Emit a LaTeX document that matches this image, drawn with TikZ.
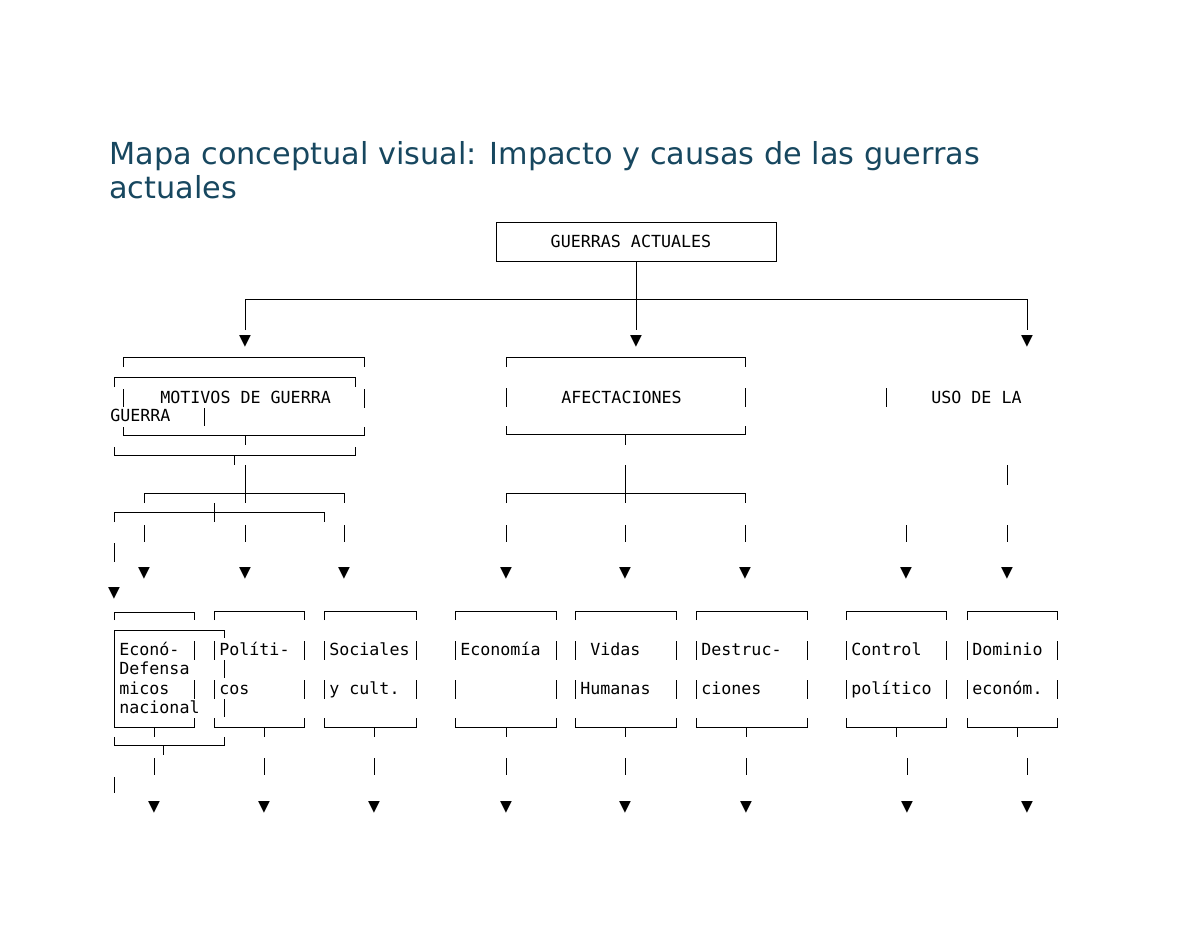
\documentclass[tikz,border=0pt]{standalone}
\usepackage{fontspec}
\setmainfont{DejaVu Sans}
\newfontfamily\monofont{DejaVu Sans Mono}
\usepackage{tikz}
\definecolor{titleblue}{HTML}{17475F}

\begin{document}
\begin{tikzpicture}[
		x=0.66pt, y=-0.66pt,
		ln/.style={line width=0.6pt, draw=black},
		mono/.style={font=\monofont\fontsize{11}{13}\selectfont, inner sep=0pt, anchor=base west},
		tip/.style={font=\monofont\fontsize{13}{15}\selectfont, inner sep=0pt},
		topbox/.style={draw=black, line width=0.6pt, font=\monofont\fontsize{11}{13}\selectfont,
			minimum width=184.8pt, minimum height=25.7pt, inner sep=0pt}]
		
		\useasboundingbox (0,0) rectangle (1200,927);
		
		% title
		\node[anchor=base west, inner sep=0pt, font=\fontsize{20}{24}\selectfont, text=titleblue]
			(title) at (109,164) {Mapa conceptual visual: Impacto y causas de las guerras};
		\node[anchor=base west, inner sep=0pt, font=\fontsize{20}{24}\selectfont, text=titleblue]
			(title2) at (109,198) {actuales};
		
		% root
		\node[topbox] (ga) at (636,241.5) {GUERRAS ACTUALES\kern6.6pt};
		\draw[ln] (ga.south) -- (636,330);
		\draw[ln] (245,330) -- (245,299) -- (1027,299) -- (1027,330);
		\foreach \xa in {245,636,1027}
			\node[tip] (top-\xa) at (\xa,341) {▼};
		
		% motivos de guerra
		\draw[ln] (123,367) -- (123,357) -- (364,357) -- (364,367);
		\draw[ln] (114,387) -- (114,377) -- (355,377) -- (355,387);
		\draw[ln] (123,389) -- (123,407) (364,389) -- (364,408);
		\node[mono] (mot) at (160,403) {MOTIVOS DE GUERRA};
		\node[mono] (mot2) at (110,421) {GUERRA};
		\draw[ln] (204,408) -- (204,426);
		\draw[ln] (123,427) -- (123,435) -- (364,435) -- (364,427);
		\draw[ln] (245,435) -- (245,445);
		\draw[ln] (114,447) -- (114,455) -- (355,455) -- (355,447);
		\draw[ln] (234,455) -- (234,465);
		\draw[ln] (245,465) -- (245,503);
		\draw[ln] (144,503) -- (144,493) -- (344,493) -- (344,503);
		\draw[ln] (114,522) -- (114,512) -- (324,512) -- (324,522);
		\draw[ln] (214,503) -- (214,522);
		\foreach \xa in {144,245,344}{
			\draw[ln] (\xa,525) -- (\xa,542);
			\node[tip] (mid-\xa) at (\xa,573) {▼};
		}
		\draw[ln] (114,543) -- (114,562);
		\node[tip] (mid-114) at (114,593) {▼};
		
		% afectaciones
		\draw[ln] (506,367) -- (506,357) -- (745,357) -- (745,367);
		\draw[ln] (506,388) -- (506,407) (745,388) -- (745,407);
		\node[mono] (afe) at (561,403) {AFECTACIONES};
		\draw[ln] (506,426) -- (506,434) -- (745,434) -- (745,426);
		\draw[ln] (625,434) -- (625,445);
		\draw[ln] (625,465) -- (625,503);
		\draw[ln] (506,503) -- (506,493) -- (745,493) -- (745,503);
		\foreach \xa in {506,625,745}{
			\draw[ln] (\xa,525) -- (\xa,542);
			\node[tip] (mid-\xa) at (\xa,573) {▼};
		}
		
		% uso de la
		\draw[ln] (886,388) -- (886,407);
		\node[mono] (uso) at (931,403) {USO DE LA};
		\draw[ln] (1007,465) -- (1007,485);
		\foreach \xa in {906,1007}{
			\draw[ln] (\xa,525) -- (\xa,542);
			\node[tip] (mid-\xa) at (\xa,573) {▼};
		}
		
		% leaf boxes
		\foreach \xl/\xr/\xt/\xb in {214/304/264/264, 324/416/374/374, 455/556/506/506,
				575/676/625/625, 696/807/746/746, 846/946/896/907, 967/1057/1017/1027}{
			\draw[ln] (\xl,620) -- (\xl,611) -- (\xr,611) -- (\xr,620);
			\draw[ln] (\xl,641) -- (\xl,660) (\xr,641) -- (\xr,660);
			\draw[ln] (\xl,680) -- (\xl,699) (\xr,680) -- (\xr,699);
			\draw[ln] (\xl,718) -- (\xl,727) -- (\xr,727) -- (\xr,718);
			\draw[ln] (\xt,727) -- (\xt,737);
			\draw[ln] (\xb,758) -- (\xb,775);
			\node[tip] (bot-\xb) at (\xb,807) {▼};
		}
		
		% econo- / defensa nacional
		\draw[ln] (114,620) -- (114,612) -- (194,612) -- (194,620);
		\draw[ln] (194,641) -- (194,660) (194,680) -- (194,699);
		\draw[ln] (114,727) -- (194,727) -- (194,718);
		\draw[ln] (154,727) -- (154,737);
		\draw[ln] (114,727) -- (114,630) -- (224,630) -- (224,638);
		\draw[ln] (224,660) -- (224,678) (224,699) -- (224,717);
		\draw[ln] (114,737) -- (114,745) -- (224,745) -- (224,737);
		\draw[ln] (163,745) -- (163,755);
		\draw[ln] (154,758) -- (154,775);
		\draw[ln] (114,777) -- (114,793);
		\node[tip] (bot-154) at (154,807) {▼};
		
		% leaf texts
		\node[mono] (eco1) at (119,655) {Econó-};
		\node[mono] (def1) at (119,674) {Defensa};
		\node[mono] (eco2) at (119,694) {micos};
		\node[mono] (def2) at (119,713) {nacional};
		\node[mono] (pol1) at (219,655) {Políti-};
		\node[mono] (pol2) at (219,694) {cos};
		\node[mono] (soc1) at (329,655) {Sociales};
		\node[mono] (soc2) at (329,694) {y cult.};
		\node[mono] (ecn) at (460,655) {Economía};
		\node[mono] (vid1) at (590,655) {Vidas};
		\node[mono] (vid2) at (580,694) {Humanas};
		\node[mono] (des1) at (701,655) {Destruc-};
		\node[mono] (des2) at (701,694) {ciones};
		\node[mono] (con1) at (851,655) {Control};
		\node[mono] (con2) at (851,694) {político};
		\node[mono] (dom1) at (972,655) {Dominio};
		\node[mono] (dom2) at (972,694) {económ.};
		
\end{tikzpicture}
\end{document}
